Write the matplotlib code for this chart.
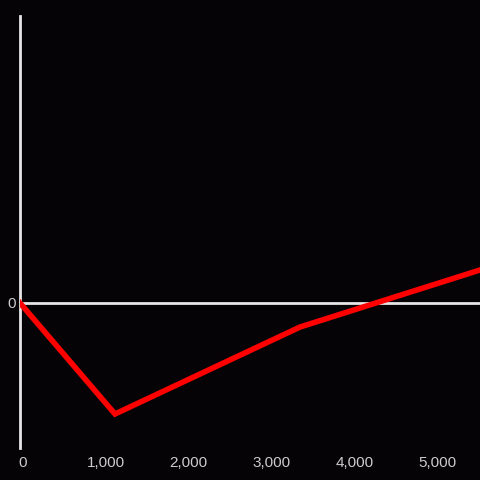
import matplotlib

matplotlib.use("Agg")
import matplotlib.pyplot as plt
from matplotlib.ticker import FuncFormatter
from matplotlib.transforms import ScaledTranslation


x_values = [0, 1147, 3382, 5555]
y_values = [0.0, -1.11, -0.24, 0.33]
x_ticks = [0, 1000, 2000, 3000, 4000, 5000]
y_ticks = [0]

BG = "#050305"
AXIS = "#e6e6e6"
LABEL = "#cccccc"

plt.rcParams["font.family"] = ["Liberation Sans", "DejaVu Sans"]

fig = plt.figure(figsize=(4.8, 4.8), dpi=100, facecolor=BG)
ax = fig.add_axes([20 / 480, 32 / 480, 460 / 480, 432 / 480], facecolor=BG)

ax.plot(x_values, y_values, color="#ff0000", linewidth=4.0,
        solid_joinstyle="miter", zorder=3)
ax.axhline(0, color=AXIS, linewidth=2.0, zorder=2)

ax.set_xlim(0, 5555)
ax.set_ylim(-1.45, 2.87)
ax.set_xticks(x_ticks)
ax.set_yticks(y_ticks)
ax.xaxis.set_major_formatter(FuncFormatter(lambda v, _: f"{int(v):,}"))
ax.tick_params(length=0, colors=LABEL, labelsize=11)
ax.tick_params(axis="x", pad=6)
ax.tick_params(axis="y", pad=3)

# labels in the reference sit a few pixels right of their ticks
shift = ScaledTranslation(3 / 100, 0, fig.dpi_scale_trans)
for label in ax.get_xticklabels():
    label.set_transform(label.get_transform() + shift)

for side in ("top", "right", "bottom"):
    ax.spines[side].set_visible(False)
ax.spines["left"].set_color(AXIS)
ax.spines["left"].set_linewidth(2.0)

fig.savefig("out.png", dpi=100, facecolor=BG)
